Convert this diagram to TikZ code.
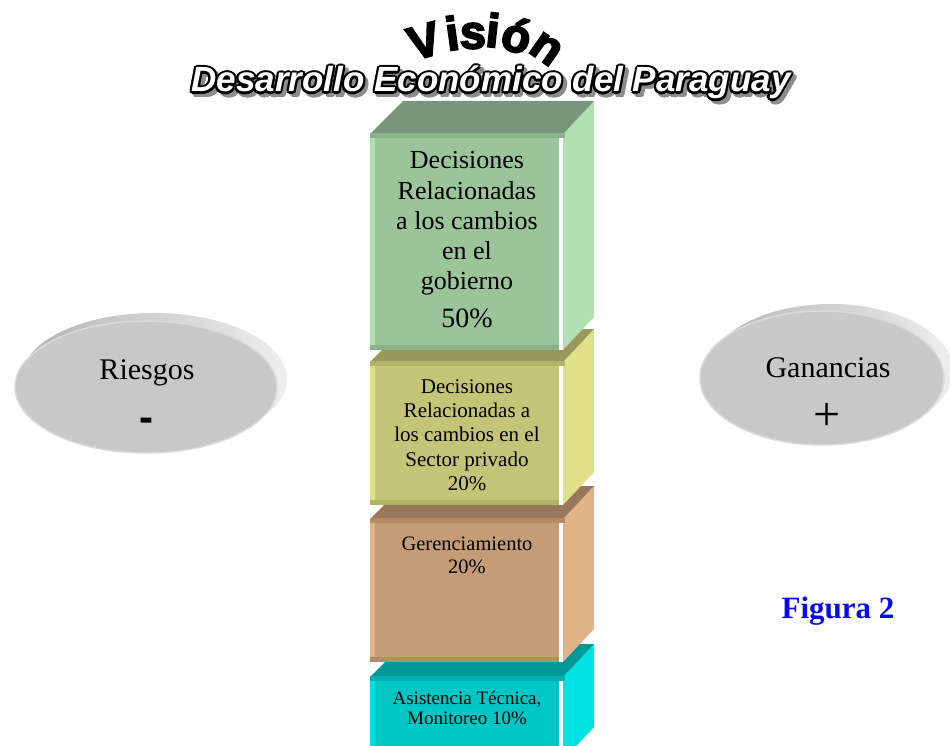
\documentclass[tikz,border=0pt]{standalone}
\usepackage{fontspec}
\setmainfont{Liberation Serif}
\newfontfamily\headfont{Liberation Sans}
\newfontfamily\visfont{Liberation Sans}[FakeBold=4]
\usetikzlibrary{shapes.geometric,calc}

% face colours of the stacked blocks: F front, T top, S side, B bevel band
\definecolor{grnF}{RGB}{155,196,155}
\definecolor{grnT}{RGB}{122,150,122}
\definecolor{grnS}{RGB}{178,224,178}
\definecolor{grnB}{RGB}{140,178,140}
\definecolor{olvF}{RGB}{196,196,118}
\definecolor{olvT}{RGB}{152,152,90}
\definecolor{olvS}{RGB}{224,224,136}
\definecolor{olvB}{RGB}{178,178,104}
\definecolor{brnF}{RGB}{196,156,118}
\definecolor{brnT}{RGB}{152,120,90}
\definecolor{brnS}{RGB}{224,180,136}
\definecolor{brnB}{RGB}{178,140,104}
\definecolor{cynF}{RGB}{0,198,198}
\definecolor{cynT}{RGB}{0,152,152}
\definecolor{cynS}{RGB}{0,226,226}
\definecolor{cynB}{RGB}{0,176,176}
\definecolor{ovalbody}{RGB}{200,200,200}
\definecolor{ovaledge}{RGB}{218,218,218}
\definecolor{rimdark}{RGB}{180,180,180}
\definecolor{rimlight}{RGB}{238,238,238}
\definecolor{shadowgray}{RGB}{140,140,140}
\definecolor{figblue}{RGB}{10,10,240}

% a bevelled block: front face from y=#1 to y=#2, colour prefix #3
\newcommand\cubebox[3]{%
  \fill[#3F] (370,#1) rectangle (562,#2);
  \fill[#3S] (370,#1) rectangle (375,#2);
  \fill[#3B] (370,#2-5) rectangle (562,#2);
  \fill[white] (559,#1+3) rectangle (563,#2);
  \fill[#3S] (563,#1) -- (594,#1-33) -- (594,#2-33) -- (563,#2) -- cycle;
  \fill[#3T] (370,#1) -- (403,#1-33) -- (594,#1-33) -- (563,#1) -- cycle;
  \fill[#3B] (370,#1-1) rectangle (565,#1+4);
}

% white lettering with black outline and grey drop shadow
\newcommand\outlined[4]{%
  \foreach \a in {0,30,...,330}{
    \node[headline, text=shadowgray] (#1-s\a) at ($(#2+3.5,#3+3.5)+(\a:2.1)$) {#4};
  }
  \foreach \a in {0,30,...,330}{
    \node[headline, text=black] (#1-o\a) at ($(#2,#3)+(\a:2.1)$) {#4};
  }
  \node[headline, text=white] (#1) at (#2,#3) {#4};
}

\tikzset{
  headline/.style={anchor=base, inner sep=0,
    font=\headfont\bfseries\itshape\fontsize{35}{35}\selectfont},
  visletter/.style={inner sep=0, text=black,
    font=\visfont\bfseries\fontsize{47}{47}\selectfont},
  boxtext/.style={align=center, inner sep=0, text=black},
  ovalrim/.style={ellipse, inner sep=0, left color=rimdark, right color=rimlight},
  ovalbody/.style={ellipse, inner sep=0, fill=ovalbody, draw=ovaledge, line width=1.5},
  ovaltext/.style={anchor=base, inner sep=0, font=\fontsize{30}{30}\selectfont},
}

\begin{document}
\begin{tikzpicture}[x=1pt,y=-1pt]
\useasboundingbox (0,0) rectangle (950,746);
\fill[white] (0,0) rectangle (950,746);

% stacked blocks, lowest first so each upper block covers the one below
\cubebox{677}{760}{cyn}
\cubebox{519}{662}{brn}
\cubebox{362}{505}{olv}
\cubebox{134}{350}{grn}

% block labels
\node[boxtext, font=\fontsize{26}{30.25}\selectfont] (gob) at (467,223.5)
  {Decisiones\\Relacionadas\\a los cambios\\en el\\gobierno};
\node[anchor=base, inner sep=0, font=\fontsize{28}{28}\selectfont] (gobpct) at (467,327) {50\%};
\node[boxtext, font=\fontsize{21}{24.25}\selectfont] (priv) at (467,435)
  {Decisiones\\Relacionadas a\\los cambios en el\\Sector privado\\20\%};
\node[boxtext, font=\fontsize{20.5}{23}\selectfont] (ger) at (467,555)
  {Gerenciamiento\\20\%};
\node[boxtext, font=\fontsize{19}{20.5}\selectfont] (asis) at (467,708)
  {Asistencia Técnica,\\Monitoreo 10\%};

% side ovals
\node[ovalrim, minimum width=266, minimum height=132] (riesgosrim) at (154,379) {};
\node[ovalbody, minimum width=262, minimum height=132] (riesgos) at (146,387) {};
\node[ovaltext] (riesgoslbl) at (147,379) {Riesgos};
\node[anchor=base, inner sep=0, font=\headfont\bfseries\fontsize{42}{42}\selectfont] (minus) at (146,431) {-};

\node[ovalrim, minimum width=244, minimum height=134] (ganrim) at (831,371) {};
\node[ovalbody, minimum width=244, minimum height=134] (gan) at (822,378) {};
\node[ovaltext] (ganlbl) at (828,377) {Ganancias};
\node[anchor=base, inner sep=0, font=\fontsize{48}{48}\selectfont] (plus) at (827,430) {+};

% caption
\node[anchor=base, inner sep=0, text=figblue, font=\bfseries\fontsize{31}{31}\selectfont] (fig) at (838,618) {Figura 2};

% heading
\outlined{desarrollo}{491}{92}{Desarrollo Económico del Paraguay}

\node[visletter, rotate=16] (v1) at (424,41) {V};
\node[visletter, rotate=8] (v2) at (452,33) {i};
\node[visletter, rotate=0] (v3) at (473,36) {s};
\node[visletter, rotate=-6] (v4) at (493,30) {i};
\node[visletter, rotate=-16] (v5) at (517,35) {ó};
\node[visletter, rotate=-35] (v6) at (546,49) {n};
\end{tikzpicture}
\end{document}
